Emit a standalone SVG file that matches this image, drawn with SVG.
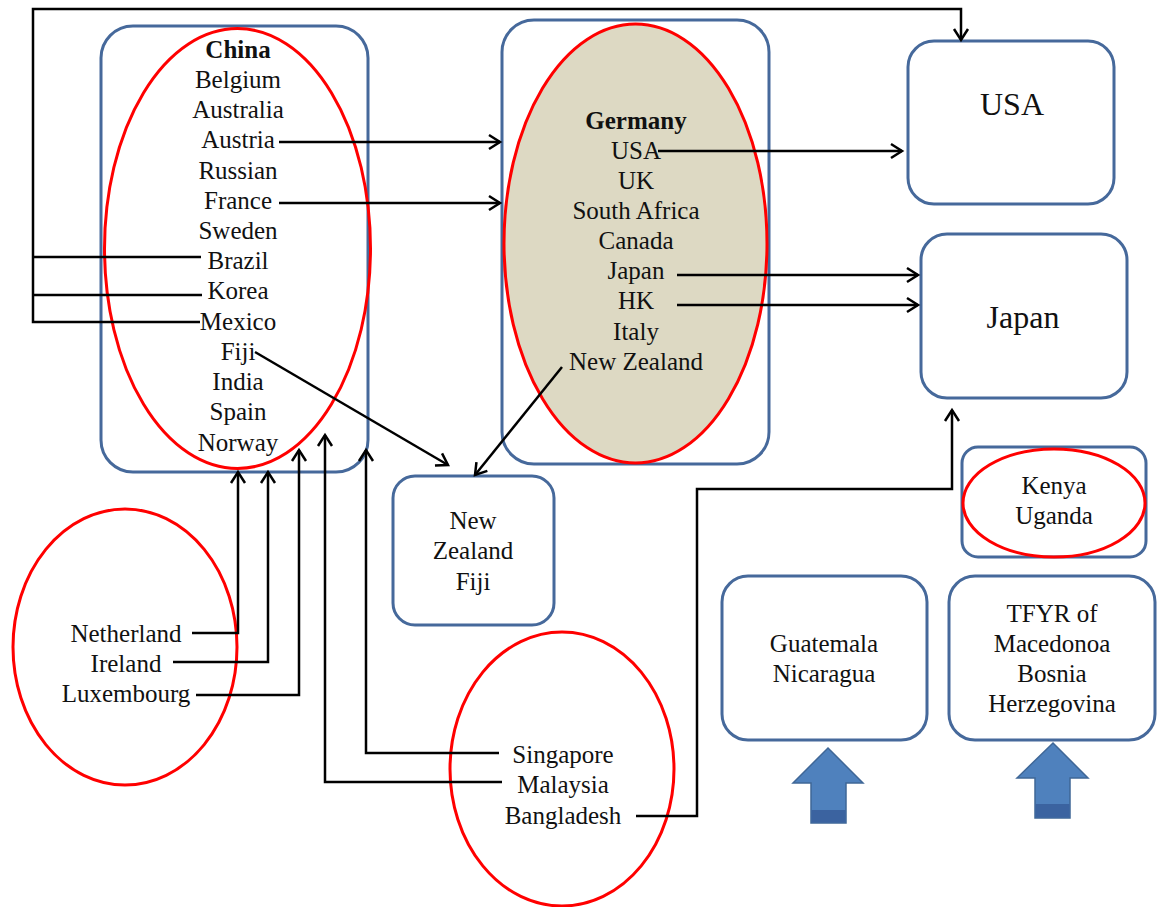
<svg xmlns="http://www.w3.org/2000/svg" width="1161" height="907" viewBox="0 0 1161 907">
<style>
.box{fill:#fff;stroke:#46699b;stroke-width:3}
.ell{fill:none;stroke:#ff0000;stroke-width:3}
.t{font-family:'Liberation Serif',Tinos,'Times New Roman','DejaVu Serif',serif;font-size:25px;fill:#111;text-anchor:middle}
.b{font-weight:bold}
.big{font-size:32px}
.c{fill:none;stroke:#000;stroke-width:2.5}
.arr{marker-end:url(#ah)}
.blk{fill:#4f81bd;stroke:#3f6797;stroke-width:1.5}
.band{fill:#3b63a0}
</style>
<defs>
<marker id="ah" markerUnits="userSpaceOnUse" viewBox="-14 -9 16 18" refX="0" refY="0" markerWidth="16" markerHeight="18" orient="auto" overflow="visible">
<path d="M-11,-7 L0,0 L-11,7" fill="none" stroke="#000" stroke-width="2.5"/>
</marker>
</defs>
<rect width="1161" height="907" fill="#fff"/>

<g id="china">
<rect class="box" x="101" y="26" width="267" height="446" rx="32"/>
<ellipse class="ell" cx="237.5" cy="248.5" rx="133" ry="220"/>
<text class="t b" x="238" y="58">China</text>
<text class="t" x="238" y="88">Belgium</text>
<text class="t" x="238" y="118">Australia</text>
<text class="t" x="238" y="148">Austria</text>
<text class="t" x="238" y="179">Russian</text>
<text class="t" x="238" y="209">France</text>
<text class="t" x="238" y="239">Sweden</text>
<text class="t" x="238" y="269">Brazil</text>
<text class="t" x="238" y="299">Korea</text>
<text class="t" x="238" y="330">Mexico</text>
<text class="t" x="238" y="360">Fiji</text>
<text class="t" x="238" y="390">India</text>
<text class="t" x="238" y="420">Spain</text>
<text class="t" x="238" y="451">Norway</text>
</g>

<g id="germany">
<rect class="box" x="502" y="20" width="267" height="444" rx="32"/>
<ellipse cx="635.5" cy="243.5" rx="131.5" ry="219.5" fill="#ddd9c3" stroke="#ff0000" stroke-width="3"/>
<text class="t b" x="636" y="129">Germany</text>
<text class="t" x="636" y="159">USA</text>
<text class="t" x="636" y="189">UK</text>
<text class="t" x="636" y="219">South Africa</text>
<text class="t" x="636" y="249">Canada</text>
<text class="t" x="636" y="279">Japan</text>
<text class="t" x="636" y="309">HK</text>
<text class="t" x="636" y="340">Italy</text>
<text class="t" x="636" y="370">New Zealand</text>
</g>

<g id="usa">
<rect class="box" x="908" y="41" width="206" height="163" rx="26"/>
<text class="t big" x="1012" y="115">USA</text>
</g>

<g id="japan">
<rect class="box" x="921" y="234" width="206" height="164" rx="26"/>
<text class="t big" x="1023" y="328">Japan</text>
</g>

<g id="nzfiji">
<rect class="box" x="393" y="476" width="161" height="149" rx="22"/>
<text class="t" x="473" y="529">New</text>
<text class="t" x="473" y="559">Zealand</text>
<text class="t" x="473" y="590">Fiji</text>
</g>

<g id="kenya">
<rect class="box" x="962" y="447" width="184" height="110" rx="16"/>
<ellipse class="ell" cx="1054" cy="503" rx="91" ry="54"/>
<text class="t" x="1054" y="494">Kenya</text>
<text class="t" x="1054" y="524">Uganda</text>
</g>

<g id="guatemala">
<rect class="box" x="722" y="576" width="205" height="164" rx="26"/>
<text class="t" x="824" y="652">Guatemala</text>
<text class="t" x="824" y="682">Nicaragua</text>
</g>

<g id="tfyr">
<rect class="box" x="949" y="576" width="206" height="164" rx="26"/>
<text class="t" x="1052" y="622">TFYR of</text>
<text class="t" x="1052" y="652">Macedonoa</text>
<text class="t" x="1052" y="682">Bosnia</text>
<text class="t" x="1052" y="712">Herzegovina</text>
</g>

<g id="benelux">
<ellipse class="ell" cx="125" cy="647" rx="112" ry="138"/>
<text class="t" x="126" y="642">Netherland</text>
<text class="t" x="126" y="672">Ireland</text>
<text class="t" x="126" y="702">Luxembourg</text>
</g>

<g id="asia">
<ellipse class="ell" cx="562" cy="769" rx="112" ry="137"/>
<text class="t" x="563" y="763">Singapore</text>
<text class="t" x="563" y="793">Malaysia</text>
<text class="t" x="563" y="824">Bangladesh</text>
</g>

<g id="blockarrow1">
<polygon class="blk" points="828,748 863,783 846,783 846,823 811,823 811,783 793,783"/>
<rect class="band" x="811.5" y="810" width="34" height="12.5"/>
</g>
<g id="blockarrow2">
<polygon class="blk" points="1053,743 1088,778 1070,778 1070,818 1035,818 1035,778 1017,778"/>
<rect class="band" x="1035.5" y="804" width="34" height="13.5"/>
</g>

<g id="connectors">
<path class="c arr" d="M200,322 H33 V9 H961 V40"/>
<path class="c" d="M201,257 H33"/>
<path class="c" d="M202,295 H32"/>
<path class="c arr" d="M279,142 H500"/>
<path class="c arr" d="M279,203 H500"/>
<path class="c arr" d="M658,151 H902"/>
<path class="c arr" d="M677,275 H918"/>
<path class="c arr" d="M677,305 H918"/>
<path class="c arr" d="M562,367 L475,475"/>
<path class="c arr" d="M255,352 L448,465"/>
<path class="c arr" d="M192,633 H238 V472"/>
<path class="c arr" d="M173,662 H268 V472"/>
<path class="c arr" d="M196,695 H299 V450"/>
<path class="c arr" d="M502,782 H325 V435"/>
<path class="c arr" d="M499,753 H366 V450"/>
<path class="c arr" d="M636,816 H697 V489 H952 V410"/>
</g>
</svg>
